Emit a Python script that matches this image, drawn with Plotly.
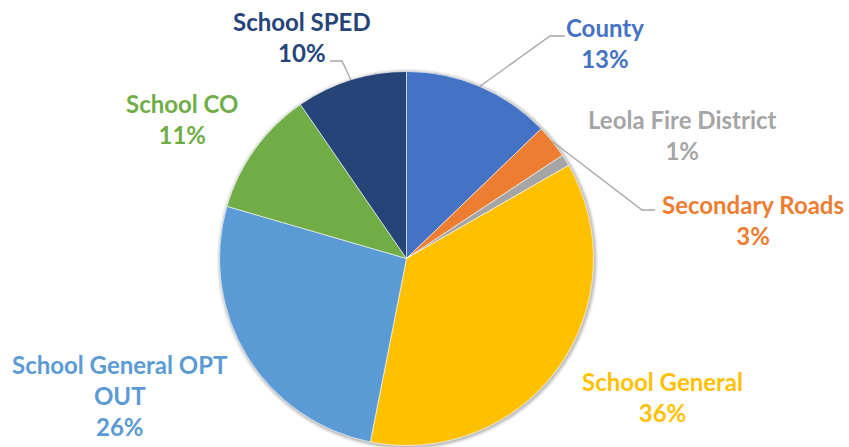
"""Property tax distribution pie chart."""

import math

import plotly.graph_objects as go

W, H = 849, 447

categories = [
    "County",
    "Secondary Roads",
    "Leola Fire District",
    "School General",
    "School General OPT<br>OUT",
    "School CO",
    "School SPED",
]
shares = [12.8, 2.9, 1.0, 36.4, 26.4, 10.9, 9.6]
colors = ["#4472C4", "#ED7D31", "#A5A5A5", "#FFC000", "#5B9BD5", "#70AD47", "#264478"]

# label centre positions (pixels) and leader line (end x, end y, elbow x)
label_pos = [(605, 43), (753, 220), (682, 135), (662, 397), (120, 395), (182, 119), (302, 37)]
leader_end = {0: (565, 36, 550), 1: (655, 210, 642), 6: (330, 61, 342)}

CX, CY, R = 406.5, 258.5, 187


def px(x, y):
    return x / W, 1 - y / H


fig = go.Figure(
    go.Pie(
        labels=categories,
        values=shares,
        sort=False,
        direction="clockwise",
        rotation=0,
        marker=dict(colors=colors, line=dict(color="white", width=0.6)),
        textinfo="none",
        hoverinfo="label+percent",
        domain=dict(
            x=[(CX - R) / W, (CX + R) / W],
            y=[(H - CY - R) / H, (H - CY + R) / H],
        ),
        showlegend=False,
    )
)

# soft shadow round the pie
for d, a in [(4, 0.04), (3, 0.05), (2, 0.07), (1, 0.09)]:
    x0, y0 = px(CX - R - d + 1, CY - R - d + 1)
    x1, y1 = px(CX + R + d + 1, CY + R + d + 1)
    fig.add_shape(
        type="circle", xref="paper", yref="paper",
        x0=x0, y0=y0, x1=x1, y1=y1, layer="below",
        fillcolor=f"rgba(0,0,0,{a})", line=dict(width=0),
    )

total = sum(shares)
cum = 0
for i, (name, val) in enumerate(zip(categories, shares)):
    mid = (cum + val / 2) / total * 2 * math.pi
    cum += val
    pct = round(val / total * 100)
    lx, ly = label_pos[i]
    fig.add_annotation(
        x=lx / W, y=1 - ly / H, xref="paper", yref="paper",
        xanchor="center", yanchor="middle",
        text=f"<b>{name}<br>{pct}%</b>",
        showarrow=False, align="center",
        font=dict(family="Lato, Open Sans, sans-serif", size=24, color=colors[i]),
    )
    if i in leader_end:
        ex, ey, kx = leader_end[i]
        sx = CX + R * math.sin(mid)
        sy = CY - R * math.cos(mid)
        pts = [px(sx, sy), px(kx, ey), px(ex, ey)]
        path = "M " + " L ".join(f"{a},{b}" for a, b in pts)
        fig.add_shape(
            type="path", path=path, xref="paper", yref="paper",
            line=dict(color="#A6A6A6", width=1.3),
        )

fig.update_layout(
    width=W, height=H,
    margin=dict(l=0, r=0, t=0, b=0),
    paper_bgcolor="white",
    plot_bgcolor="white",
)

fig.write_html(
    "out.html",
    config={"displayModeBar": False},
    post_script="document.body.style.margin='0';",
)
